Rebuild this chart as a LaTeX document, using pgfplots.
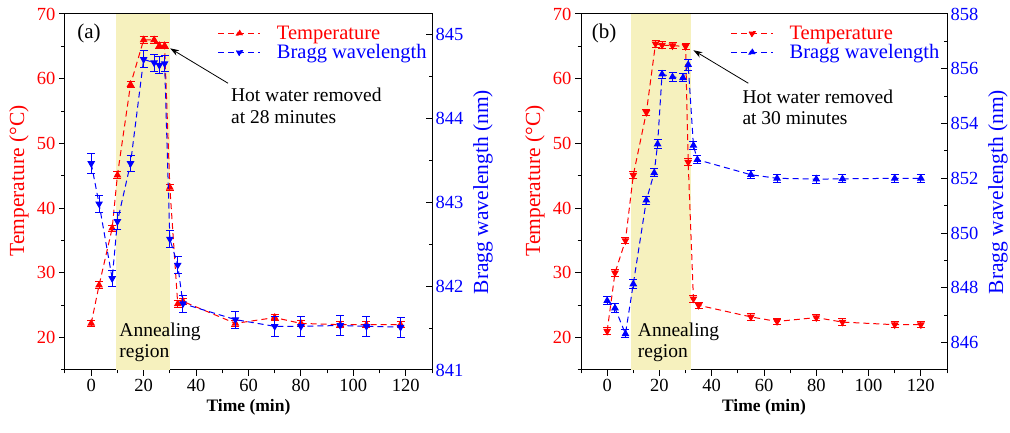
\documentclass[border=0pt]{standalone}
\usepackage{fontspec}
\setmainfont{Liberation Serif}
\usepackage{pgfplots}
\pgfplotsset{compat=1.18}
\usetikzlibrary{arrows.meta}
\definecolor{shadecol}{RGB}{246,241,190}
\newcommand\tickfont{\fontsize{18.5}{20}\selectfont}
\newcommand\labfont{\fontsize{21.5}{23}\selectfont}
\newcommand\xlabfont{\fontsize{17.5}{19}\selectfont}
\newcommand\legfont{\fontsize{20.5}{22.5}\selectfont}
\newcommand\annfont{\fontsize{19.5}{21.5}\selectfont}
\newcommand\panfont{\fontsize{21}{23}\selectfont}
\pgfplotsset{
  common/.style={scale only axis, width=367pt, height=356pt, xmin=-10, xmax=130,
    /pgf/number format/assume math mode=true, ticklabel style={font=\tickfont},
    axis line style={line width=1pt}, every tick/.style={line width=1pt, black},
    major tick length=6pt, minor tick length=3.5pt, anchor=south west},
  leftax/.style={common, xtick={0,20,...,120}, minor xtick={-10,10,...,130},
    xtick pos=bottom, ytick pos=left, tick align=outside, ymin=15, ymax=70,
    ytick={20,30,...,70}, minor ytick={15,25,...,65},
    yticklabel style={red}, ylabel style={red, font=\labfont, at={(axis description cs:-0.1255,0.531)}, anchor=center},
    xlabel style={font=\xlabfont\bfseries}, xlabel={Time (min)}, ylabel={Temperature (°C)}},
  rightax/.style={common, axis x line=none, axis y line*=right, tick align=inside,
    yticklabel style={blue}, ylabel style={blue, font=\labfont, at={(axis description cs:1.139,0.5)}, anchor=center},
    ylabel={Bragg wavelength (nm)},
    legend style={draw=none, fill=none, font=\legfont, legend cell align=left, row sep=-0.5pt,
      /tikz/every odd column/.append style={column sep=14pt}},
    legend image code/.code={\draw[mark repeat=2, mark phase=2, #1] plot coordinates {(0pt,0pt) (21pt,0pt) (42pt,0pt)};}},
  ser/.style={line width=1pt, dash pattern=on 6pt off 4pt, mark size=3.5pt, mark options={solid},
    error bars/y dir=both, error bars/y explicit, error bars/error bar style={solid, line width=1pt},
    error bars/error mark options={solid, rotate=90, mark size=4pt, line width=1pt}},
  up/.style={mark=triangle*},
  down/.style={mark=triangle*, mark options={solid, rotate=180}},
  legsty/.style={line width=1pt, dash pattern=on 6pt off 4pt, mark size=3.5pt},
}
\begin{document}
\begin{tikzpicture}
\path[use as bounding box] (0,0) rectangle (1010pt,433pt);
% ---------------- panel (a)
\begin{axis}[leftax, at={(65pt,63pt)}]
\fill[shadecol] (axis cs:9.3,15) rectangle (axis cs:30,70);
\addplot[red, ser, up] coordinates {
(0,22.2) +- (0,0.5) (3,28.1) +- (0,0.5) (8,36.9) +- (0,0.5) (10,45.1) +- (0,0.5)
(15,59.1) +- (0,0.5) (20,66) +- (0,0.5) (24,66) +- (0,0.5) (26,65.1) +- (0,0.5)
(28,65.1) +- (0,0.5) (30,43.2) +- (0,0.5) (33,25.2) +- (0,0.5) (35,25.6) +- (0,0.5)
(55,22.2) +- (0,0.5) (70,23.1) +- (0,0.5) (80,22.2) +- (0,0.5) (95,22) +- (0,0.5)
(105,22) +- (0,0.5) (118,22) +- (0,0.5)};
\node[anchor=west, align=left, font=\annfont, inner sep=0pt] at (axis cs:10.7,19.3) {Annealing\\region};
\node[anchor=west, font=\panfont, inner sep=0pt] at (axis cs:-5.4,67) {(a)};
\draw[-{Stealth[length=9pt,width=6pt]}, line width=0.8pt] (axis cs:52.2,59.3) -- (axis cs:30.1,64.7);
\node[anchor=north west, align=left, font=\annfont, inner sep=0pt] at (axis cs:53.3,58.6) {Hot water removed\\at 28 minutes};
\end{axis}
\begin{axis}[rightax, at={(65pt,63pt)}, ymin=841, ymax=845.24, ytick={841,...,845}, minor ytick={841.5,842.5,843.5,844.5},
  legend style={at={(0.408,0.978)}, anchor=north west}]
\addlegendimage{legsty, red, mark=triangle*}
\addlegendentry{\textcolor{red}{Temperature}}
\addlegendimage{legsty, blue, mark=triangle*, mark options={rotate=180}}
\addlegendentry{\textcolor{blue}{Bragg wavelength}}
\addplot[blue, ser, down, forget plot] coordinates {
(0,843.46) +- (0,0.12) (3,842.98) +- (0,0.1) (8,842.09) +- (0,0.1) (10,842.77) +- (0,0.1)
(15,843.46) +- (0,0.1) (20,844.70) +- (0,0.1) (24,844.66) +- (0,0.1) (26,844.63) +- (0,0.1)
(28,844.65) +- (0,0.1) (30,842.56) +- (0,0.1) (33,842.25) +- (0,0.1) (35,841.79) +- (0,0.1)
(55,841.6) +- (0,0.1) (70,841.52) +- (0,0.12) (80,841.52) +- (0,0.12) (95,841.53) +- (0,0.12)
(105,841.52) +- (0,0.12) (118,841.51) +- (0,0.12)};
\end{axis}
% ---------------- panel (b)
\begin{axis}[leftax, at={(581pt,63pt)}, width=366pt]
\fill[shadecol] (axis cs:9.1,15) rectangle (axis cs:32,70);
\addplot[red, ser, down] coordinates {
(0,21) +- (0,0.5) (3,30) +- (0,0.5) (7,35) +- (0,0.5) (10,45.1) +- (0,0.5)
(15,54.8) +- (0,0.5) (18.5,65.4) +- (0,0.5) (21,65.2) +- (0,0.5) (25,65.1) +- (0,0.5)
(30,65) +- (0,0.5) (31,47.1) +- (0,0.5) (33,26) +- (0,0.5) (35,25) +- (0,0.5)
(55,23.2) +- (0,0.5) (65,22.5) +- (0,0.5) (80,23.1) +- (0,0.5) (90,22.4) +- (0,0.5)
(110,22) +- (0,0.5) (120,22) +- (0,0.5)};
\node[anchor=west, align=left, font=\annfont, inner sep=0pt] at (axis cs:11.7,19.3) {Annealing\\region};
\node[anchor=west, font=\panfont, inner sep=0pt] at (axis cs:-5.9,67) {(b)};
\draw[-{Stealth[length=9pt,width=6pt]}, line width=0.8pt] (axis cs:54,59.3) -- (axis cs:33,64.4);
\node[anchor=north west, align=left, font=\annfont, inner sep=0pt] at (axis cs:51.7,58.3) {Hot water removed\\at 30 minutes};
\end{axis}
\begin{axis}[rightax, at={(581pt,63pt)}, width=366pt, ymin=845, ymax=858, ytick={846,848,...,858}, minor ytick={845,847,...,857},
  legend style={at={(0.400,0.978)}, anchor=north west}]
\addlegendimage{legsty, red, mark=triangle*, mark options={rotate=180}}
\addlegendentry{\textcolor{red}{Temperature}}
\addlegendimage{legsty, blue, mark=triangle*}
\addlegendentry{\textcolor{blue}{Bragg wavelength}}
\addplot[blue, ser, up, forget plot] coordinates {
(0,847.53) +- (0,0.15) (3,847.26) +- (0,0.15) (7,846.32) +- (0,0.15) (10,848.14) +- (0,0.15)
(15,851.2) +- (0,0.15) (18,852.2) +- (0,0.15) (19.3,853.25) +- (0,0.15) (21,855.8) +- (0,0.15)
(25,855.7) +- (0,0.15) (29,855.67) +- (0,0.15) (31,856.15) +- (0,0.2) (33,853.2) +- (0,0.15)
(34.5,852.68) +- (0,0.15) (55,852.13) +- (0,0.15) (65,852.0) +- (0,0.15) (80,851.97) +- (0,0.15)
(90,851.98) +- (0,0.15) (110,852.0) +- (0,0.15) (120,852.0) +- (0,0.15)};
\end{axis}
\end{tikzpicture}
\end{document}
